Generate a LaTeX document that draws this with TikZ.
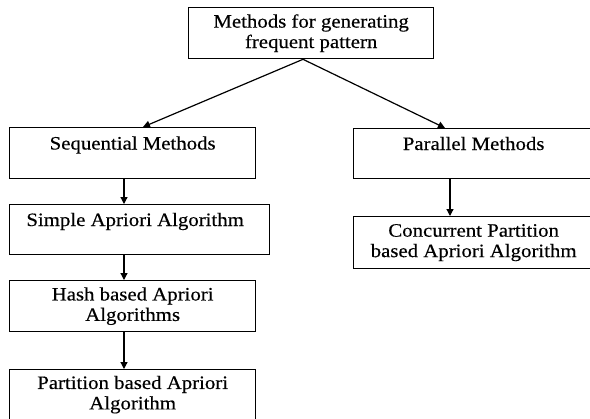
\documentclass[tikz,border=0pt]{standalone}
\usepackage{fontspec}
\setmainfont{Liberation Serif}[FakeStretch=1.1,FakeBold=0.4]
\usetikzlibrary{arrows.meta}
\tikzset{
  box/.style={draw, line width=1.3bp, rectangle, inner sep=0pt, align=center, anchor=north west,
    font=\fontsize{19}{20.5}\selectfont},
  arr/.style={line width=1.2bp, -{Triangle[length=7bp,width=7bp]}},
}
\begin{document}
\begin{tikzpicture}[x=1bp,y=-1bp]
\useasboundingbox (0,0) rectangle (590,418);
\clip (0,0) rectangle (590,418);
\fill[white] (0,0) rectangle (590,418);
\node[box, minimum width=245bp, minimum height=51bp] (top) at (188,7) {Methods for generating\\frequent pattern};
\node[box, minimum width=246bp, minimum height=51bp] (seq) at (9,127) {Sequential Methods\\~};
\node[box, minimum width=260bp, minimum height=50bp] (simple) at (9,204) {\hspace*{-9bp}Simple Apriori Algorithm\\~};
\node[box, minimum width=246bp, minimum height=51bp] (hash) at (9,280) {Hash based Apriori\\Algorithms};
\node[box, minimum width=246bp, minimum height=50bp] (part) at (9,369) {Partition based Apriori\\Algorithm};
\node[box, minimum width=250bp, minimum height=50bp] (par) at (353,128) {\hspace*{-10bp}Parallel Methods\\~};
\node[box, minimum width=250bp, minimum height=52bp] (conc) at (353,216) {\hspace*{-10bp}Concurrent Partition\\\hspace*{-10bp}based Apriori Algorithm};
\coordinate (tx) at (303,0);
\coordinate (sx) at (143,0);
\coordinate (px) at (445,0);
\coordinate (ax) at (124,0);
\coordinate (bx) at (450,0);
\draw[arr] (top.south -| tx) -- (seq.north -| sx);
\draw[arr] (top.south -| tx) -- (par.north -| px);
\draw[arr] (seq.south -| ax) -- (simple.north -| ax);
\draw[arr] (simple.south -| ax) -- (hash.north -| ax);
\draw[arr] (hash.south -| ax) -- (part.north -| ax);
\draw[arr] (par.south -| bx) -- (conc.north -| bx);
\end{tikzpicture}
\end{document}
